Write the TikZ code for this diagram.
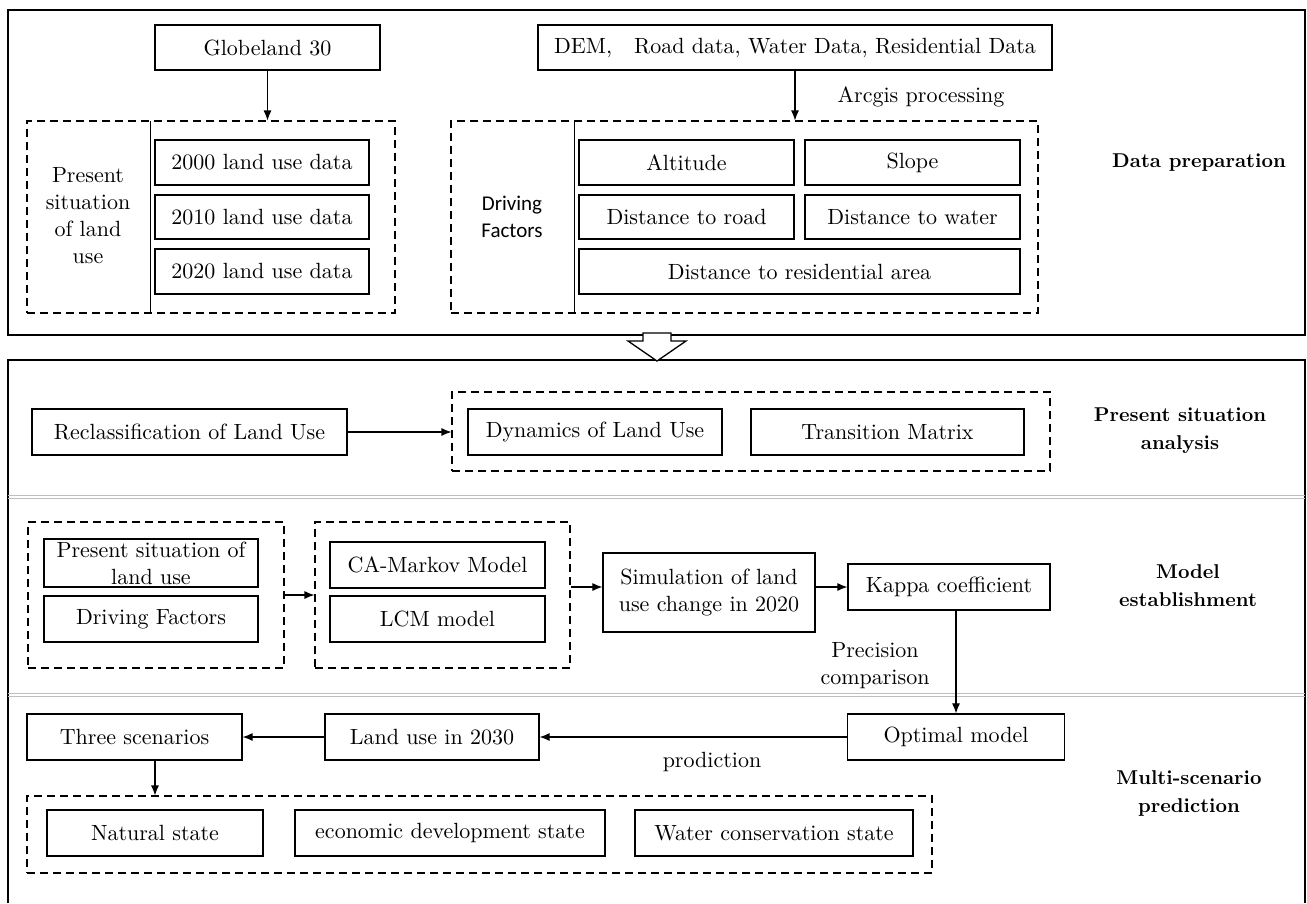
\documentclass[tikz,border=0pt]{standalone}
\usepackage{fontspec}
\setmainfont{lmroman10-regular}[Extension=.otf,BoldFont=lmroman10-bold,ItalicFont=lmroman10-italic]
\newfontfamily\carlito{Carlito}
\usetikzlibrary{arrows.meta}

\begin{document}
\begin{tikzpicture}[x=1pt,y=-1pt,
  box/.style={draw,line width=1.2pt,inner sep=0pt,align=center,font=\fontsize{22}{27}\selectfont},
  grp/.style={draw,line width=1.1pt,dash pattern=on 8pt off 5pt,inner sep=0pt},
  lab/.style={align=center,font=\fontsize{22}{27}\selectfont},
  sec/.style={align=center,font=\fontsize{20}{28}\selectfont\bfseries},
  arr/.style={line width=1.1pt,-{Latex[length=10pt,width=8pt]}},
  sep/.style={draw=black!25,line width=0.8pt}]
  \useasboundingbox (0,0) rectangle (1307,903);
  % frames
  \draw[line width=1.3pt] (8,10) rectangle (1305,335);
  \draw[line width=1.3pt] (8,903) -- (8,360) -- (1305,360) -- (1305,903);
  \draw[sep] (8,495.5) -- (1305,495.5);
  \draw[sep] (8,498.5) -- (1305,498.5);
  \draw[sep] (8,693.5) -- (1305,693.5);
  \draw[sep] (8,696.5) -- (1305,696.5);
  \draw[line width=1.3pt,fill=white] (643,333) -- (671,333) -- (671,341) -- (686,341) -- (657,361) -- (628,341) -- (643,341) -- cycle;
  % data preparation
  \node[box,minimum width=225pt,minimum height=45pt] (globe) at (267.5,47.5) {Globeland 30};
  \node[box,minimum width=514pt,minimum height=45pt] (dem) at (795,47.5) {DEM,\quad{}Road data, Water Data, Residential Data};
  \node[grp,minimum width=368pt,minimum height=192pt] (lugrp) at (211,217) {};
  \draw[line width=0.9pt] (150,121) -- (150,313);
  \node[lab] (lulab) at (88,216) {Present\\situation\\of land\\use};
  \node[box,minimum width=214pt,minimum height=45pt] (lu2000) at (262,162.5) {2000 land use data};
  \node[box,minimum width=214pt,minimum height=44pt] (lu2010) at (262,217) {2010 land use data};
  \node[box,minimum width=214pt,minimum height=45pt] (lu2020) at (262,271.5) {2020 land use data};
  \node[grp,minimum width=587pt,minimum height=192pt] (dfgrp) at (744.5,217) {};
  \draw[line width=0.9pt] (574,121) -- (574,313);
  \node[align=center,font=\carlito\fontsize{21}{27}\selectfont] (dflab) at (512,217) {Driving\\Factors};
  \node[box,minimum width=215pt,minimum height=45pt] (alt) at (686.5,162.5) {Altitude};
  \node[box,minimum width=215pt,minimum height=45pt] (slope) at (912.5,162.5) {Slope};
  \node[box,minimum width=215pt,minimum height=44pt] (droad) at (686.5,217) {Distance to road};
  \node[box,minimum width=215pt,minimum height=44pt] (dwater) at (912.5,217) {Distance to water};
  \node[box,minimum width=441pt,minimum height=45pt] (dres) at (799.5,271.5) {Distance to residential area};
  \node[lab] (arcgis) at (921,97) {Arcgis processing};
  \node[sec] (prep) at (1199,163) {Data preparation};
  \draw[arr] (globe.south) -- (globe.south |- lugrp.north);
  \draw[arr] (dem.south) -- (dem.south |- dfgrp.north);
  % present situation analysis
  \node[box,minimum width=315pt,minimum height=46pt] (reclass) at (189.5,432) {Reclassification of Land Use};
  \node[grp,minimum width=598pt,minimum height=79pt] (psgrp) at (751,431.5) {};
  \node[box,minimum width=254pt,minimum height=46pt] (dyn) at (595,432) {Dynamics of Land Use};
  \node[box,minimum width=273pt,minimum height=46pt] (trans) at (887.5,432) {Transition Matrix};
  \node[sec] (anal) at (1180,431) {Present situation\\analysis};
  \draw[arr] (reclass.east) -- (reclass.east -| psgrp.west);
  % model establishment
  \node[grp,minimum width=256pt,minimum height=146pt] (sfgrp) at (156,595) {};
  \node[box,minimum width=214pt,minimum height=48pt] (psland) at (151,563) {Present situation of\\land use};
  \node[box,minimum width=214pt,minimum height=46pt] (drv) at (151,619) {Driving Factors};
  \node[grp,minimum width=255pt,minimum height=146pt] (mdgrp) at (442.5,595) {};
  \node[box,minimum width=215pt,minimum height=46pt] (camk) at (437.5,565) {CA-Markov Model};
  \node[box,minimum width=215pt,minimum height=46pt] (lcm) at (437.5,619) {LCM model};
  \node[box,minimum width=212pt,minimum height=79pt] (sim) at (709,592.5) {Simulation of land\\use change in 2020};
  \node[box,minimum width=202pt,minimum height=46pt] (kappa) at (949,587) {Kappa coefficient};
  \node[lab] (prec) at (875,665.5) {Precision\\comparison};
  \node[sec] (model) at (1188,586) {Model\\establishment};
  \draw[arr] (sfgrp.east) -- (mdgrp.west);
  \draw[arr] (mdgrp.east |- kappa.west) -- (sim.west |- kappa.west);
  \draw[arr] (sim.east |- kappa.west) -- (kappa.west);
  % multi-scenario prediction
  \node[box,minimum width=215pt,minimum height=46pt] (three) at (134.5,737) {Three scenarios};
  \node[box,minimum width=214pt,minimum height=46pt] (lu2030) at (432,737) {Land use in 2030};
  \node[box,minimum width=217pt,minimum height=46pt] (optimal) at (956,737) {Optimal model};
  \node[lab] (predi) at (712,762) {prodiction};
  \node[grp,minimum width=905pt,minimum height=77pt] (scgrp) at (479.5,834.5) {};
  \node[box,minimum width=216pt,minimum height=46pt] (natural) at (155,833) {Natural state};
  \node[box,minimum width=310pt,minimum height=46pt] (econ) at (450,833) {economic development state};
  \node[box,minimum width=278pt,minimum height=46pt] (water) at (774,833) {Water conservation state};
  \node[sec] (multi) at (1189,793.5) {Multi-scenario\\prediction};
  \draw[arr] (optimal.north |- kappa.south) -- (optimal.north);
  \draw[arr] (optimal.west) -- (lu2030.east);
  \draw[arr] (lu2030.west) -- (three.east);
  \draw[arr] (three.south -| natural.north) -- (natural.north |- scgrp.north);
\end{tikzpicture}
\end{document}
